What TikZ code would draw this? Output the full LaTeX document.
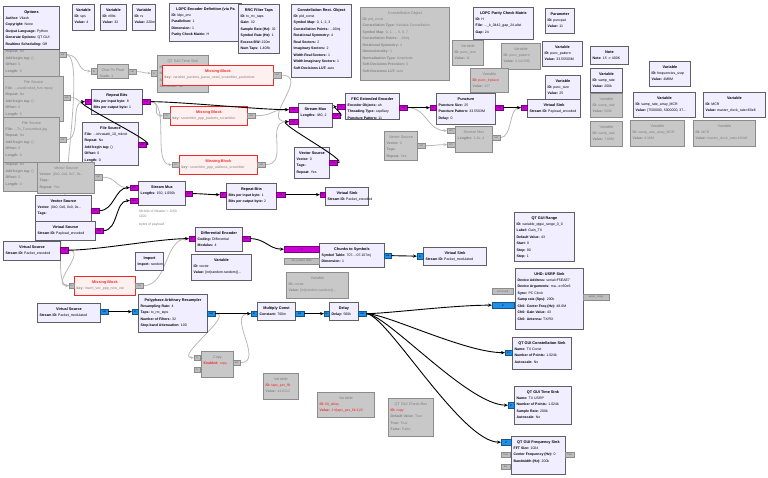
\documentclass[tikz,border=0pt]{standalone}
\usepackage{fontspec}
\setmainfont{Liberation Sans}
\usetikzlibrary{arrows.meta,calc}
\pgfdeclarelayer{bg}
\pgfsetlayers{bg,main}
\definecolor{enfill}{RGB}{240,238,255}
\definecolor{enbord}{RGB}{95,95,105}
\definecolor{disfill}{RGB}{200,200,200}
\definecolor{disbord}{RGB}{140,140,140}
\definecolor{distxt}{RGB}{130,130,130}
\definecolor{missfill}{RGB}{255,240,240}
\definecolor{missred}{RGB}{240,40,40}
\definecolor{pmag}{RGB}{204,0,214}
\definecolor{pblue}{RGB}{30,144,232}
\definecolor{pgray}{RGB}{190,190,190}
\definecolor{dline}{RGB}{185,185,185}
\newcommand\kv[2]{\textbf{#1:} #2}
\newcommand\rd[1]{\textcolor{missred}{#1}}
\newcommand\blk[8]{%
  \node[#1, anchor=north west, minimum width=#5pt, minimum height=#6pt] (#2) at (#3,#4) {};
  \node[#1title, anchor=base] at ([yshift=-7pt]#2.north) {#7};
  \node[#1text, anchor=north west, align=left] at ([xshift=2.5pt,yshift=-10.7pt]#2.north west) {#8};
}
% block whose upper part is hidden: only the lines from a given offset are drawn
\newcommand\blkh[8]{%
  \node[#1, anchor=north west, minimum width=#5pt, minimum height=#6pt] (#2) at (#3,#4) {};
  \node[#1text, anchor=north west, align=left] at ([xshift=2.5pt,yshift=-#7pt]#2.north west) {#8};
}
\newcommand\prt[7]{\node[#1, anchor=north west, minimum width=#5pt, minimum height=#6pt] (#2) at (#3,#4) {#7};}
\tikzset{
  en/.style={draw=enbord, line width=0.9pt, fill=enfill, inner sep=0},
  entitle/.style={font=\fontsize{3.8}{4}\selectfont\bfseries, inner sep=0},
  entext/.style={font=\fontsize{3.5}{6.5}\selectfont, inner sep=0},
  dis/.style={draw=disbord, line width=0.9pt, fill=disfill, inner sep=0},
  distitle/.style={font=\fontsize{3.8}{4}\selectfont, text=distxt, inner sep=0},
  distext/.style={font=\fontsize{3.5}{6.5}\selectfont, text=distxt, inner sep=0},
  miss/.style={draw=missred, line width=1pt, fill=missfill, inner sep=0},
  misstitle/.style={font=\fontsize{3.8}{4}\selectfont\bfseries, text=missred, inner sep=0},
  misstext/.style={font=\fontsize{3.5}{6.5}\selectfont, text=distxt, inner sep=0},
  pm/.style={draw=pmag!60!black, line width=0.3pt, fill=pmag, font=\fontsize{2.6}{3}\selectfont, inner sep=0, text=black},
  pb/.style={draw=pblue!60!black, line width=0.3pt, fill=pblue, font=\fontsize{2.6}{3}\selectfont, inner sep=0, text=black},
  pg/.style={draw=disbord, line width=0.3pt, fill=pgray, font=\fontsize{2.6}{3}\selectfont, inner sep=0, text=black!60},
  cn/.style={draw=black, line width=0.9pt, -{Stealth[length=4pt,width=3.2pt]}},
  dc/.style={draw=dline, line width=0.8pt, -{Stealth[length=3.5pt,width=3pt,open]}}
}
\begin{document}
\begin{tikzpicture}[x=1pt,y=-1pt]
\useasboundingbox (0,0) rectangle (768,477);
% ---------- left column file sources ----------
\blkh{dis}{fs1}{3}{33}{56}{45}{17.2}{\kv{Repeat}{No}\\\kv{Add begin tag}{()}\\\kv{Offset}{0}\\\kv{Length}{0}}
\blk{dis}{fs2}{3}{76}{60}{45}{File Source}{\kv{File}{...used/coded\_fsm.mpeg}\\\kv{Repeat}{No}\\\kv{Add begin tag}{()}\\\kv{Offset}{0}\\\kv{Length}{0}}
\blkh{dis}{fs4}{3}{146}{56}{45}{17.2}{\kv{Repeat}{No}\\\kv{Add begin tag}{()}\\\kv{Offset}{0}\\\kv{Length}{0}}
\blk{dis}{fs3}{3}{117}{56}{45}{File Source}{\kv{File}{...Tx\_Transmitted.jpg}\\\kv{Repeat}{No}\\\kv{Add begin tag}{()}\\\kv{Offset}{0}\\\kv{Length}{0}}
\blk{en}{opt}{3}{6}{56}{43}{Options}{\kv{Author}{Vilash}\\\kv{Copyright}{None}\\\kv{Output Language}{Python}\\\kv{Generate Options}{QT GUI}\\\kv{Realtime Scheduling}{Off}}
% ---------- top row variables ----------
\blk{en}{vsps}{72}{4}{22}{26}{Variable}{\kv{ID}{sps}\\\kv{Value}{4}}
\blk{en}{vnf}{100}{4}{26}{26}{Variable}{\kv{ID}{nfilts}\\\kv{Value}{32}}
\blk{en}{vrs}{132}{4}{23}{26}{Variable}{\kv{ID}{rs}\\\kv{Value}{220m}}
\blk{en}{ldpcdef}{169}{3}{72}{38}{LDPC Encoder Definition (via Pa}{\kv{ID}{ldpc\_enc}\\\kv{Parallelism}{1}\\\kv{Dimension}{1}\\\kv{Parity Check Matrix}{H}}
\blk{en}{rrc}{238}{4}{41}{49}{RRC Filter Taps}{\kv{ID}{tx\_rrc\_taps}\\\kv{Gain}{32}\\\kv{Sample Rate (Hz)}{32}\\\kv{Symbol Rate (Hz)}{1}\\\kv{Excess BW}{220m}\\\kv{Num Taps}{1.408k}}
\blk{en}{crect}{291}{4}{60}{73}{Constellation Rect. Object}{\kv{ID}{pld\_const}\\\kv{Symbol Map}{0, 1, 2, 3}\\\kv{Constellation Points}{...00mj}\\\kv{Rotational Symmetry}{4}\\\kv{Real Sectors}{2}\\\kv{Imaginary Sectors}{2}\\\kv{Width Real Sectors}{1}\\\kv{Width Imaginary Sectors}{1}\\\kv{Soft Decisions LUT}{auto}}
\blk{dis}{cobj}{360}{7}{89}{73}{Constellation Object}{\kv{ID}{pld\_const}\\\kv{Constellation Type}{Variable Constellation}\\\kv{Symbol Map}{0, 1, ..., 5, 6, 7}\\\kv{Constellation Points}{...00mj}\\\kv{Rotational Symmetry}{4}\\\kv{Dimensionality}{1}\\\kv{Normalization Type}{Amplitude}\\\kv{Soft Decisions Precision}{0}\\\kv{Soft Decisions LUT}{auto}}
\blk{en}{ldpch}{473}{7}{60}{32}{LDPC Parity Check Matrix}{\kv{ID}{H}\\\kv{File}{...\_k\_0442\_gap\_24.alist}\\\kv{Gap}{24}}
\blk{en}{param}{545}{8}{29}{25}{Parameter}{\kv{ID}{puncpat}\\\kv{Value}{11}}
\blk{dis}{vpszd}{452}{40}{31}{25}{Variable}{\kv{ID}{punc\_size}\\\kv{Value}{11}}
\blk{dis}{vppd}{501}{43}{39}{26}{Variable}{\kv{ID}{punc\_pattern}\\\kv{Value}{2.141590}}
\blk{en}{vpp}{542}{41}{40}{25}{Variable}{\kv{ID}{punc\_pattern}\\\kv{Value}{33.55503M}}
\blk{dis}{vpid}{470}{68}{38}{24}{Variable}{\rd{\kv{ID}{punc\_inplace}}\\\kv{Value}{127}}
\blk{en}{vpsz}{545}{75}{35}{25}{Variable}{\kv{ID}{punc\_size}\\\kv{Value}{25}}
\blk{en}{note}{590}{46}{38}{18}{Note}{\kv{Note}{15 -> 400K}}
\blk{en}{vsr}{590}{68}{32}{24}{Variable}{\kv{ID}{samp\_rate}\\\kv{Value}{200k}}
\blk{dis}{vsrd1}{590}{93}{32}{24}{Variable}{\kv{ID}{samp\_rate}\\\kv{Value}{500k}}
\blk{dis}{vsrd2}{590}{121}{32}{25}{Variable}{\kv{ID}{samp\_rate}\\\kv{Value}{7.68M}}
\blk{en}{vfreq}{649}{61}{41}{25}{Variable}{\kv{ID}{frequencies\_usrp}\\\kv{Value}{4M8M}}
\blk{en}{vsra}{633}{92}{62}{25}{Variable}{\kv{ID}{samp\_rate\_array\_MCR}\\\kv{Value}{[7500000, 5000000, 37...}}
\blk{en}{vmcr}{703}{92}{62}{25}{Variable}{\kv{ID}{MCR}\\\kv{Value}{master\_clock\_rate=60e6}}
\blk{dis}{vsrad}{630}{120}{54}{26}{Variable}{\kv{ID}{samp\_rate\_array\_MCR}\\\kv{Value}{4.16M}}
\blk{dis}{vmcrd}{693}{120}{62}{26}{Variable}{\kv{ID}{MCR}\\\kv{Value}{master\_clock\_rate=184e6}}
% ---------- upper chain ----------
\blk{dis}{c2f}{97}{64}{31}{14}{Char To Float}{\kv{Scale}{1}}
\blk{dis}{qtts}{157}{55}{51}{37}{QT GUI Time Sink}{\kv{Name}{}\\\kv{Number of Points}{1.024k}\\\kv{Sample Rate}{samp\_rate}\\\kv{Autoscale}{No}}
\blk{miss}{miss1}{162}{65}{111}{20}{Missing Block}{\kv{key}{variable\_packets\_parse\_need\_scrambler\_packetizer}}
\blk{miss}{miss2}{170}{106}{77}{19}{Missing Block}{\kv{key}{scrambler\_ppp\_packets\_scrambler}}
\blk{miss}{miss3}{179}{155}{78}{19}{Missing Block}{\kv{key}{scrambler\_ppp\_address\_scrambler}}
\blk{en}{rb1}{91}{89}{51}{25}{Repeat Bits}{\kv{Bits per input byte}{8}\\\kv{Bits per output byte}{1}}
\blk{en}{fsrc}{82}{122}{56}{43}{File Source}{\kv{File}{...ichrasatti\_10\_mb.txt}\\\kv{Repeat}{No}\\\kv{Add begin tag}{()}\\\kv{Offset}{0}\\\kv{Length}{0}}
\blk{en}{smux1}{298}{103}{34}{24}{Stream Mux}{\kv{Lengths}{480, 2}}
\blk{en}{fec}{345}{93}{54}{26}{FEC Extended Encoder}{\kv{Encoder Objects}{ah}\\\kv{Threading Type}{capillary}\\\kv{Puncture Pattern}{11}}
\blk{en}{punc}{436}{93}{59}{31}{Puncture}{\kv{Puncture Size}{25}\\\kv{Puncture Pattern}{33.5503M}\\\kv{Delay}{0}}
\blk{en}{vspay}{527}{99}{53}{18}{Virtual Sink}{\kv{Stream ID}{Payload\_encoded}}
\blk{dis}{smd}{455}{126}{37}{26}{Stream Mux}{\kv{Lengths}{1.1k, 4}}
\blk{dis}{vecd2}{384}{131}{33}{29}{Vector Source}{\kv{Vector}{0}\\\kv{Tags}{}\\\kv{Repeat}{Yes}}
\blk{en}{vec2}{294}{147}{35}{31}{Vector Source}{\kv{Vector}{0}\\\kv{Tags}{}\\\kv{Repeat}{Yes}}
% ---------- middle ----------
\blk{dis}{vecd}{37}{162}{57}{31}{Vector Source}{\kv{Vector}{(0x0, 0x0, 0x7, 0x...}\\\kv{Tags}{}\\\kv{Repeat}{Yes}}
\blk{en}{vec1}{35}{195}{56}{27}{Vector Source}{\kv{Vector}{(0x0, 0x0, 0x0, 0x...}\\\kv{Tags}{}}
\blk{en}{vpay}{35}{221}{60}{19}{Virtual Source}{\kv{Stream ID}{Payload\_encoded}}
\blk{en}{vpkt}{3}{241}{57}{19}{Virtual Source}{\kv{Stream ID}{Packet\_encoded}}
\blk{en}{smux2}{138}{181}{47}{24}{Stream Mux}{\kv{Lengths}{150, 1.056k}}
\node[anchor=north west, align=left, inner sep=0, text=distxt, font=\fontsize{3.4}{5}\selectfont] (cmt) at (139,210) {Nb bits of Header = 1150\\1100\\[3pt]bytes of payload};
\blk{en}{rb2}{226}{183}{50}{26}{Repeat Bits}{\kv{Bits per input byte}{1}\\\kv{Bits per output byte}{2}}
\blk{en}{vspkt}{325}{187}{43}{18}{Virtual Sink}{\kv{Stream ID}{Packet\_encoded}}
\blk{en}{diff}{195}{227}{47}{24}{Differential Encoder}{\kv{Coding}{Differential}\\\kv{Modulus}{4}}
\blk{en}{c2s}{319}{243}{65}{24}{Chunks to Symbols}{\kv{Symbol Table}{707...-07.107mj}\\\kv{Dimension}{1}}
\blk{en}{vsmod}{423}{247}{63}{18}{Virtual Sink}{\kv{Stream ID}{Packet\_modulated}}
\blk{en}{vcn}{191}{254}{60}{26}{Variable}{\kv{ID}{vector}\\\kv{Value}{[int(random.random()...}}
\blk{dis}{vcnd}{286}{272}{62}{26}{Variable}{\kv{ID}{vector}\\\kv{Value}{[int(random.random()...}}
\blk{en}{imp}{135}{252}{28}{18}{Import}{\kv{Import}{random}}
\blk{miss}{miss4}{74}{276}{61}{19}{Missing Block}{\kv{key}{insert\_vec\_ppp\_new\_vec}}
% ---------- lower chain ----------
\blk{en}{vsrcmod}{37}{303}{63}{19}{Virtual Source}{\kv{Stream ID}{Packet\_modulated}}
\blk{en}{pfb}{138}{294}{69}{38}{Polyphase Arbitrary Resampler}{\kv{Resampling Rate}{4}\\\kv{Taps}{tx\_rrc\_taps}\\\kv{Number of Filters}{32}\\\kv{Stop-band Attenuation}{100}}
\blk{en}{mult}{257}{302}{38}{18}{Multiply Const}{\kv{Constant}{700m}}
\blk{en}{delay}{329}{302}{29}{18}{Delay}{\kv{Delay}{500k}}
\blk{dis}{copy}{201}{351}{32}{26}{Copy}{\rd{\kv{Enabled}{copy}}}
\blk{dis}{vtpf}{263}{373}{35}{26}{Variable}{\rd{\kv{ID}{taps\_per\_filt}}\\\kv{Value}{44.0312}}
\blk{dis}{vfd}{317}{392}{57}{25}{Variable}{\rd{\kv{ID}{filt\_delay}}\\\rd{\kv{Value}{1+(taps\_per\_filt-1)/2}}}
\blk{dis}{chk}{388}{398}{45}{38}{QT GUI Check Box}{\rd{\kv{ID}{copy}}\\\kv{Default Value}{True}\\\kv{True}{True}\\\kv{False}{False}}
\blk{en}{rng}{514}{212}{60}{49}{QT GUI Range}{\kv{ID}{variable\_qtgui\_range\_0\_0}\\\kv{Label}{Gain\_TX}\\\kv{Default Value}{43}\\\kv{Start}{0}\\\kv{Stop}{90}\\\kv{Step}{1}}
\blk{en}{usrp}{515}{268}{68}{61}{UHD: USRP Sink}{\kv{Device Address}{serial=F5EAE7}\\\kv{Device Arguments}{ma...e=60e6}\\\kv{Sync}{PC Clock}\\\kv{Samp rate (Sps)}{200k}\\\kv{Ch0: Center Freq (Hz)}{48.0M}\\\kv{Ch0: Gain Value}{43}\\\kv{Ch0: Antenna}{TX/RX}}
\blk{en}{const}{512}{337}{59}{32}{QT GUI Constellation Sink}{\kv{Name}{TX Const}\\\kv{Number of Points}{1.024k}\\\kv{Autoscale}{No}}
\blk{en}{tsink}{514}{386}{57}{38}{QT GUI Time Sink}{\kv{Name}{TX USRP}\\\kv{Number of Points}{1.024k}\\\kv{Sample Rate}{200k}\\\kv{Autoscale}{No}}
\blk{en}{fsink}{511}{436}{54}{38}{QT GUI Frequency Sink}{\kv{FFT Size}{1024}\\\kv{Center Frequency (Hz)}{0}\\\kv{Bandwidth (Hz)}{200k}}
% ---------- ports ----------
\prt{pg}{fs1o}{59}{52}{7}{5}{out}
\prt{pg}{fs2o}{63}{95}{7}{5}{out}
\prt{pg}{fs3o}{59}{137}{7}{5}{out}
\prt{pg}{vecdo}{94}{174}{8}{6}{out}
\prt{pm}{vec1o}{91}{208}{8}{5}{out}
\prt{pm}{vpayo}{95}{228}{8}{5}{out}
\prt{pm}{vpkto}{60}{247}{8}{6}{out}
\prt{pm}{smuxTi}{130}{185}{8}{5}{in0}
\prt{pm}{smuxTj}{130}{198}{8}{5}{in1}
\prt{pm}{smuxTo}{185}{191}{7}{5}{out}
\prt{pm}{rb1i}{85}{99}{6}{5}{in}
\prt{pm}{rb1o}{142}{99}{8}{5}{out}
\prt{pm}{fsrco}{138}{142}{8}{5}{out}
\prt{pg}{c2fi}{91}{68}{6}{6}{in}
\prt{pg}{c2fo}{128}{69}{8}{5}{out}
\prt{pg}{qttsi}{151}{70}{6}{6}{in}
\prt{pg}{miss1o}{273}{72}{8}{6}{out}
\prt{pg}{miss2i}{163}{113}{7}{5}{in}
\prt{pg}{miss2o}{247}{113}{8}{5}{out}
\prt{pg}{miss3i}{172}{162}{7}{5}{in}
\prt{pg}{miss3o}{257}{162}{8}{5}{out}
\prt{pm}{smuxAi}{289}{107}{9}{5}{in0}
\prt{pm}{smuxAj}{289}{119}{9}{5}{in1}
\prt{pm}{smuxAo}{332}{113}{8}{5}{out}
\prt{pm}{feci}{337}{104}{8}{5}{in}
\prt{pm}{feco}{399}{105}{8}{5}{out}
\prt{pm}{punci}{430}{105}{6}{5}{in}
\prt{pm}{punco}{495}{105}{8}{5}{out}
\prt{pm}{vspayi}{521}{105}{6}{5}{in}
\prt{pg}{smdi}{447}{128}{8}{5}{in0}
\prt{pg}{smdj}{447}{142}{8}{5}{in1}
\prt{pg}{smdo}{492}{135}{8}{5}{out}
\prt{pg}{vecd2o}{417}{143}{8}{5}{out}
\prt{pm}{vec2o}{329}{160}{8}{5}{out}
\prt{pm}{rb2i}{220}{192}{6}{5}{in}
\prt{pm}{rb2o}{276}{192}{9}{5}{out}
\prt{pm}{vspkti}{320}{192}{5}{5}{in}
\prt{pm}{diffi}{189}{236}{6}{5}{in}
\prt{pm}{diffo}{242}{236}{8}{5}{out}
\prt{pm}{c2si}{284}{246}{35}{6}{in}
\prt{pg}{c2st}{284}{258}{35}{6}{set\_symbol\_table}
\prt{pb}{c2so}{384}{253}{7}{5}{out}
\prt{pb}{vsmodi}{417}{253}{6}{6}{in}
\prt{pg}{miss4i}{69}{283}{5}{5}{in}
\prt{pg}{miss4o}{135}{283}{8}{5}{out}
\prt{pb}{vsrcmodo}{100}{309}{8}{5}{out}
\prt{pb}{pfbi}{132}{309}{6}{5}{in}
\prt{pb}{pfbo}{207}{311}{8}{5}{out}
\prt{pb}{multi}{251}{311}{6}{5}{in}
\prt{pb}{multo}{295}{311}{9}{5}{out}
\prt{pb}{delayi}{324}{311}{5}{5}{in}
\prt{pb}{delayo}{358}{311}{8}{5}{out}
\prt{pg}{copyi}{194}{355}{6}{5}{in}
\prt{pg}{copyj}{194}{367}{6}{5}{in}
\prt{pg}{copyo}{233}{360}{7}{5}{out}
\prt{pg}{usrpc}{492}{288}{21}{6}{command}
\prt{pb}{usrpi}{492}{302}{22}{6}{in}
\prt{pg}{usrpa}{583}{294}{26}{6}{async\_msgs}
\prt{pb}{consti}{505}{350}{7}{5}{in}
\prt{pb}{tsinki}{508}{402}{6}{6}{in}
\prt{pb}{fsinki}{501}{439}{10}{6}{in}
\prt{pg}{fsinkf}{501}{452}{9}{5}{freq}
\prt{pg}{fsinkb}{501}{464}{9}{5}{bw}
\prt{pg}{fsinko}{565}{452}{9}{5}{freq}
% ---------- disabled connections ----------
\begin{pgfonlayer}{bg}
\fill[white] (0,0) rectangle (768,477);
\draw[dc] (fs1o.east) .. controls +(15,0) and +(-15,0) .. (c2fi.west);
\draw[dc] (c2fo.east) .. controls +(8,0) and +(-8,0) .. (qttsi.west);
\draw[dc] (fs2o.east) .. controls +(10,0) and +(-10,0) .. (rb1i.west);
\draw[dc] (fs3o.east) .. controls +(15,0) and +(-15,0) .. (rb1i.west);
\draw[dc] (fs1o.east) .. controls +(25,0) and +(-25,0) .. (miss4i.west);
\draw[dc] (rb1o.east) .. controls +(12,0) and +(-12,0) .. (miss2i.west);
\draw[dc] (rb1o.east) .. controls +(20,0) and +(-20,0) .. (miss3i.west);
\draw[dc] (miss1o.east) .. controls +(30,0) and +(-30,0) .. (smuxAj.west);
\draw[dc] (miss2o.east) .. controls +(20,0) and +(-20,0) .. (smuxAi.west);
\draw[dc] (miss3o.east) .. controls +(25,0) and +(-25,0) .. (smuxAj.west);
\draw[dc] (vecdo.east) .. controls +(15,0) and +(-15,0) .. (smuxTi.west);
\draw[dc] (vpkto.east) .. controls +(20,0) and +(-20,0) .. (miss4i.west);
\draw[dc] (miss4o.east) .. controls +(25,0) and +(-25,0) .. (diffi.west);
\draw[dc] (feco.east) .. controls +(20,0) and +(-20,0) .. (smdi.west);
\draw[dc] (vecd2o.east) .. controls +(12,0) and +(-12,0) .. (smdj.west);
\draw[dc] (smdo.east) .. controls +(12,0) and +(-12,0) .. (vspayi.west);
\draw[dc] (pfbo.east) .. controls +(20,0) and +(-20,0) .. (copyi.west);
\draw[dc] (copyo.east) .. controls +(25,0) and +(-25,0) .. (multi.west);
\end{pgfonlayer}
% ---------- enabled connections ----------
\draw[cn] (fsrco.east) .. controls +(15,0) and +(-15,0) .. (rb1i.west);
\draw[cn] (rb1o.east) .. controls +(30,0) and +(-30,0) .. (smuxAi.west);
\draw[cn] (vec2o.east) .. controls +(15,0) and +(-15,0) .. (smuxAj.west);
\draw[cn] (smuxAo.east) .. controls +(4,0) and +(-4,0) .. (feci.west);
\draw[cn] (feco.east) -- (punci.west);
\draw[cn] (punco.east) -- (vspayi.west);
\draw[cn] (vec1o.east) .. controls +(15,0) and +(-15,0) .. (smuxTi.west);
\draw[cn] (vpayo.east) .. controls +(15,0) and +(-15,0) .. (smuxTj.west);
\draw[cn] (smuxTo.east) .. controls +(12,0) and +(-12,0) .. (rb2i.west);
\draw[cn] (rb2o.east) -- (vspkti.west);
\draw[cn] (vpkto.east) .. controls +(30,0) and +(-30,0) .. (diffi.west);
\draw[cn] (diffo.east) .. controls +(15,0) and +(-15,0) .. (c2si.west);
\draw[cn] (c2so.east) -- (vsmodi.west);
\draw[cn] (vsrcmodo.east) -- (pfbi.west);
\draw[cn] (pfbo.east) -- (multi.west);
\draw[cn] (multo.east) -- (delayi.west);
\draw[cn] (delayo.east) .. controls +(20,0) and +(-40,0) .. (usrpi.west);
\draw[cn] (delayo.east) .. controls +(20,0) and +(-40,0) .. (consti.west);
\draw[cn] (delayo.east) .. controls +(20,0) and +(-40,0) .. (tsinki.west);
\draw[cn] (delayo.east) .. controls +(20,0) and +(-40,0) .. (fsinki.west);
\end{tikzpicture}
\end{document}
